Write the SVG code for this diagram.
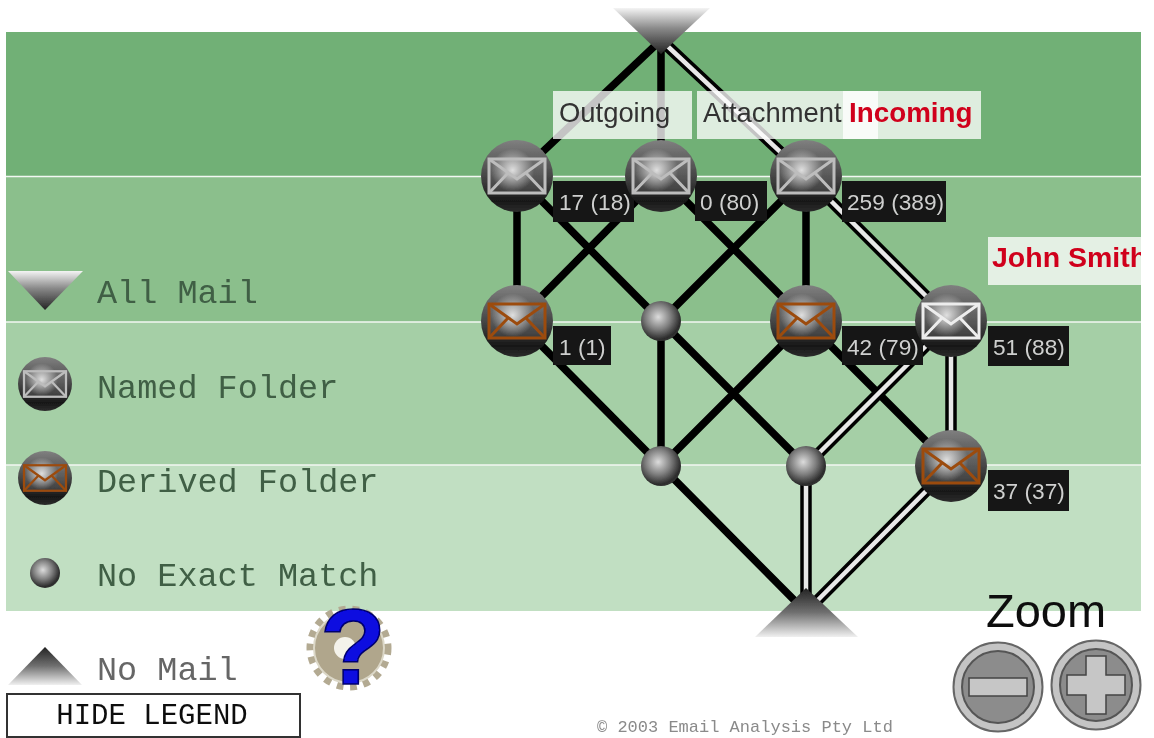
<svg xmlns="http://www.w3.org/2000/svg" width="1154" height="738" viewBox="0 0 1154 738">
<style>
.e{fill:none;stroke:#000;stroke-width:7.500}
.db{fill:none;stroke:#000;stroke-width:11.500}
.dw{fill:none;stroke:#e8e8e8;stroke-width:4.500}
.tag{fill:#151815}
.tagt{font:22.700px "Liberation Sans",Arial,sans-serif;fill:#cfcfcf}
.lab{fill:#fff;fill-opacity:.77}
.labt{font:27.4px "Liberation Sans",Arial,sans-serif;fill:#333}
.red{font:bold 27.800px "Liberation Sans",Arial,sans-serif;fill:#d0021b}
.leg{font:33.500px "Liberation Mono","Courier New",monospace;fill:#3f5f45}
.env{fill:#fff;fill-opacity:.1;stroke-width:3}
</style>
<defs>
<filter id="soft" filterUnits="userSpaceOnUse" x="0" y="0" width="1154" height="738"><feGaussianBlur stdDeviation=".55"/></filter>
<linearGradient id="down" x1="0" y1="0" x2="0" y2="1"><stop offset="0" stop-color="#f4f4f4"/><stop offset=".45" stop-color="#888"/><stop offset="1" stop-color="#222"/></linearGradient>
<linearGradient id="up" x1="0" y1="0" x2="0" y2="1"><stop offset="0" stop-color="#222"/><stop offset=".5" stop-color="#707070"/><stop offset="1" stop-color="#f0f0f0"/></linearGradient>
<linearGradient id="ball" x1="0" y1="0" x2="0" y2="1"><stop offset="0" stop-color="#808080"/><stop offset=".5" stop-color="#464646"/><stop offset=".85" stop-color="#181818"/><stop offset="1" stop-color="#2c2c2c"/></linearGradient>
<radialGradient id="shine" cx=".44" cy=".42" r=".3"><stop offset="0" stop-color="#fff" stop-opacity=".8"/><stop offset="1" stop-color="#fff" stop-opacity="0"/></radialGradient>
<radialGradient id="small" cx=".43" cy=".4" r=".62"><stop offset="0" stop-color="#dcdcdc"/><stop offset=".5" stop-color="#808080"/><stop offset=".9" stop-color="#2c2c2c"/><stop offset="1" stop-color="#333"/></radialGradient>
<clipPath id="page"><rect x="0" y="0" width="1141" height="738"/></clipPath>
<g id="sph"><circle r="36" fill="url(#ball)"/><circle r="36" fill="url(#shine)"/></g>
<g id="envShape"><rect x="-28" y="-17" width="56" height="34"/><path d="M-28-17L0 3L28-17M-28 17L-9-3M28 17L9-3" fill="none"/></g>
<g id="named"><use href="#sph"/><use href="#envShape" class="env" stroke="#bdbdbd"/></g>
<g id="derived"><use href="#sph"/><use href="#envShape" class="env" stroke="#9c4c10"/></g>
<g id="bright"><use href="#sph"/><use href="#envShape" class="env" stroke="#ededed"/></g>
</defs>
<rect width="1154" height="738" fill="#fff"/>
<g id="diagram" filter="url(#soft)">
<g id="bands">
<rect x="6" y="32" width="1135" height="144" fill="#71b076"/>
<rect x="6" y="176" width="1135" height="146" fill="#8bbf8c"/>
<rect x="6" y="322" width="1135" height="143" fill="#a5cfa6"/>
<rect x="6" y="465" width="1135" height="146" fill="#c1dfc2"/>
<path d="M6 176.500H1141M6 322H1141M6 465H1141" stroke="#f2f8f2" stroke-width="1.600"/>
</g>
<g id="connectors">
<path class="e" d="M661 40L517 176M661 40V176M517 176V321M517 176L661 321M661 176L517 321M661 176L806 321M806 176L661 321M806 176V321M517 321L661 466M661 321V466M661 321L806 466M806 321L661 466M806 321L951 466M661 466L806 612"/>
<path class="db" d="M661 40L806 176L951 321M951 321L806 466M951 321V466M806 466V612M951 466L806 612"/>
<path class="dw" d="M661 40L806 176L951 321M951 321L806 466M951 321V466M806 466V612M951 466L806 612"/>
</g>
<g id="node-all-mail"><path d="M613 8H710L661 54Z" fill="url(#down)"/></g>
<g id="node-outgoing">
<rect class="lab" x="553" y="91" width="139" height="48"/>
<text class="labt" x="559" y="122">Outgoing</text>
<rect class="tag" x="553" y="181" width="81" height="41"/>
<text class="tagt" x="559" y="210">17 (18)</text>
<use href="#named" x="517" y="176"/>
</g>
<g id="node-attachment">
<rect class="lab" x="697" y="91" width="181" height="48"/>
<text class="labt" x="703" y="122">Attachment</text>
<rect class="tag" x="695" y="181" width="72" height="40"/>
<text class="tagt" x="700" y="210">0 (80)</text>
<use href="#named" x="661" y="176"/>
</g>
<g id="node-incoming">
<rect class="lab" x="843" y="91" width="138" height="48"/>
<text class="red" x="849" y="122">Incoming</text>
<rect class="tag" x="842" y="181" width="104" height="41"/>
<text class="tagt" x="847" y="210">259 (389)</text>
<use href="#named" x="806" y="176"/>
</g>
<g id="node-derived-a">
<rect class="tag" x="553" y="326" width="58" height="39"/>
<text class="tagt" x="559" y="355">1 (1)</text>
<use href="#derived" x="517" y="321"/>
</g>
<g id="node-match-a"><circle cx="661" cy="321" r="20" fill="url(#small)"/></g>
<g id="node-derived-b">
<rect class="tag" x="842" y="326" width="81" height="39"/>
<text class="tagt" x="847" y="355">42 (79)</text>
<use href="#derived" x="806" y="321"/>
</g>
<g id="node-john-smith">
<rect class="lab" x="988" y="237" width="153" height="48"/>
<g clip-path="url(#page)"><text class="red" x="992" y="267" style="font-size:28.500px">John Smith</text></g>
<rect class="tag" x="988" y="326" width="81" height="40"/>
<text class="tagt" x="993" y="355">51 (88)</text>
<use href="#bright" x="951" y="321"/>
</g>
<g id="node-match-b"><circle cx="661" cy="466" r="20" fill="url(#small)"/></g>
<g id="node-match-c"><circle cx="806" cy="466" r="20" fill="url(#small)"/></g>
<g id="node-derived-c">
<rect class="tag" x="988" y="470" width="81" height="41"/>
<text class="tagt" x="993" y="499">37 (37)</text>
<use href="#derived" x="951" y="466"/>
</g>
<g id="node-no-mail"><path d="M806 588L858 637H755Z" fill="url(#up)"/></g>
<g id="legend">
<path d="M8 271H83L45 310Z" fill="url(#down)"/>
<text class="leg" x="97" y="303">All Mail</text>
<g transform="translate(45 384) scale(.75)"><use href="#named"/></g>
<text class="leg" x="97" y="398">Named Folder</text>
<g transform="translate(45 478) scale(.75)"><use href="#derived"/></g>
<text class="leg" x="97" y="492">Derived Folder</text>
<circle cx="45" cy="573" r="15" fill="url(#small)"/>
<text class="leg" x="97" y="586">No Exact Match</text>
<path d="M45 647L82 685H8Z" fill="url(#up)"/>
<text class="leg" x="97" y="680" style="fill:#666">No Mail</text>
<rect x="7" y="694" width="293" height="43" fill="#fff" stroke="#333" stroke-width="2"/>
<text x="152" y="724" text-anchor="middle" style="font:29px 'Liberation Mono','Courier New',monospace;fill:#111">HIDE LEGEND</text>
</g>
<g id="help">
<circle cx="349" cy="648" r="38" fill="none" stroke="#b3aa92" stroke-width="9" stroke-dasharray="6.500 6.500"/>
<circle cx="349" cy="648" r="35" fill="#b0a68c" stroke="#dcd8c8" stroke-width="2"/>
<circle cx="345" cy="648" r="11" fill="#f4f2ea"/>
<text x="353" y="684" text-anchor="middle" style="font:bold 108px 'Liberation Sans',Arial,sans-serif;fill:#0808e0;stroke:#00006a;stroke-width:1.500">?</text>
</g>
<g id="zoom">
<text x="986" y="627" style="font:47px 'Liberation Sans',Arial,sans-serif;fill:#111">Zoom</text>
<g id="zoom-out" transform="translate(998 687)">
<circle r="44.500" fill="#c4c4c4" stroke="#666" stroke-width="2"/>
<circle r="36" fill="#8c8c8c" stroke="#555" stroke-width="2"/>
<rect x="-29" y="-9" width="58" height="18" fill="#c6c6c6" stroke="#444" stroke-width="1.500"/>
</g>
<g id="zoom-in" transform="translate(1096 685)">
<circle r="44.500" fill="#c4c4c4" stroke="#666" stroke-width="2"/>
<circle r="36" fill="#8c8c8c" stroke="#555" stroke-width="2"/>
<path d="M-10-29H10V-10H29V10H10V29H-10V10H-29V-10H-10Z" fill="#c6c6c6" stroke="#444" stroke-width="1.500"/>
</g>
</g>
<text id="copyright" x="597" y="732" style="font:17px 'Liberation Mono','Courier New',monospace;fill:#8a8a8a">© 2003 Email Analysis Pty Ltd</text>
</g>
</svg>
